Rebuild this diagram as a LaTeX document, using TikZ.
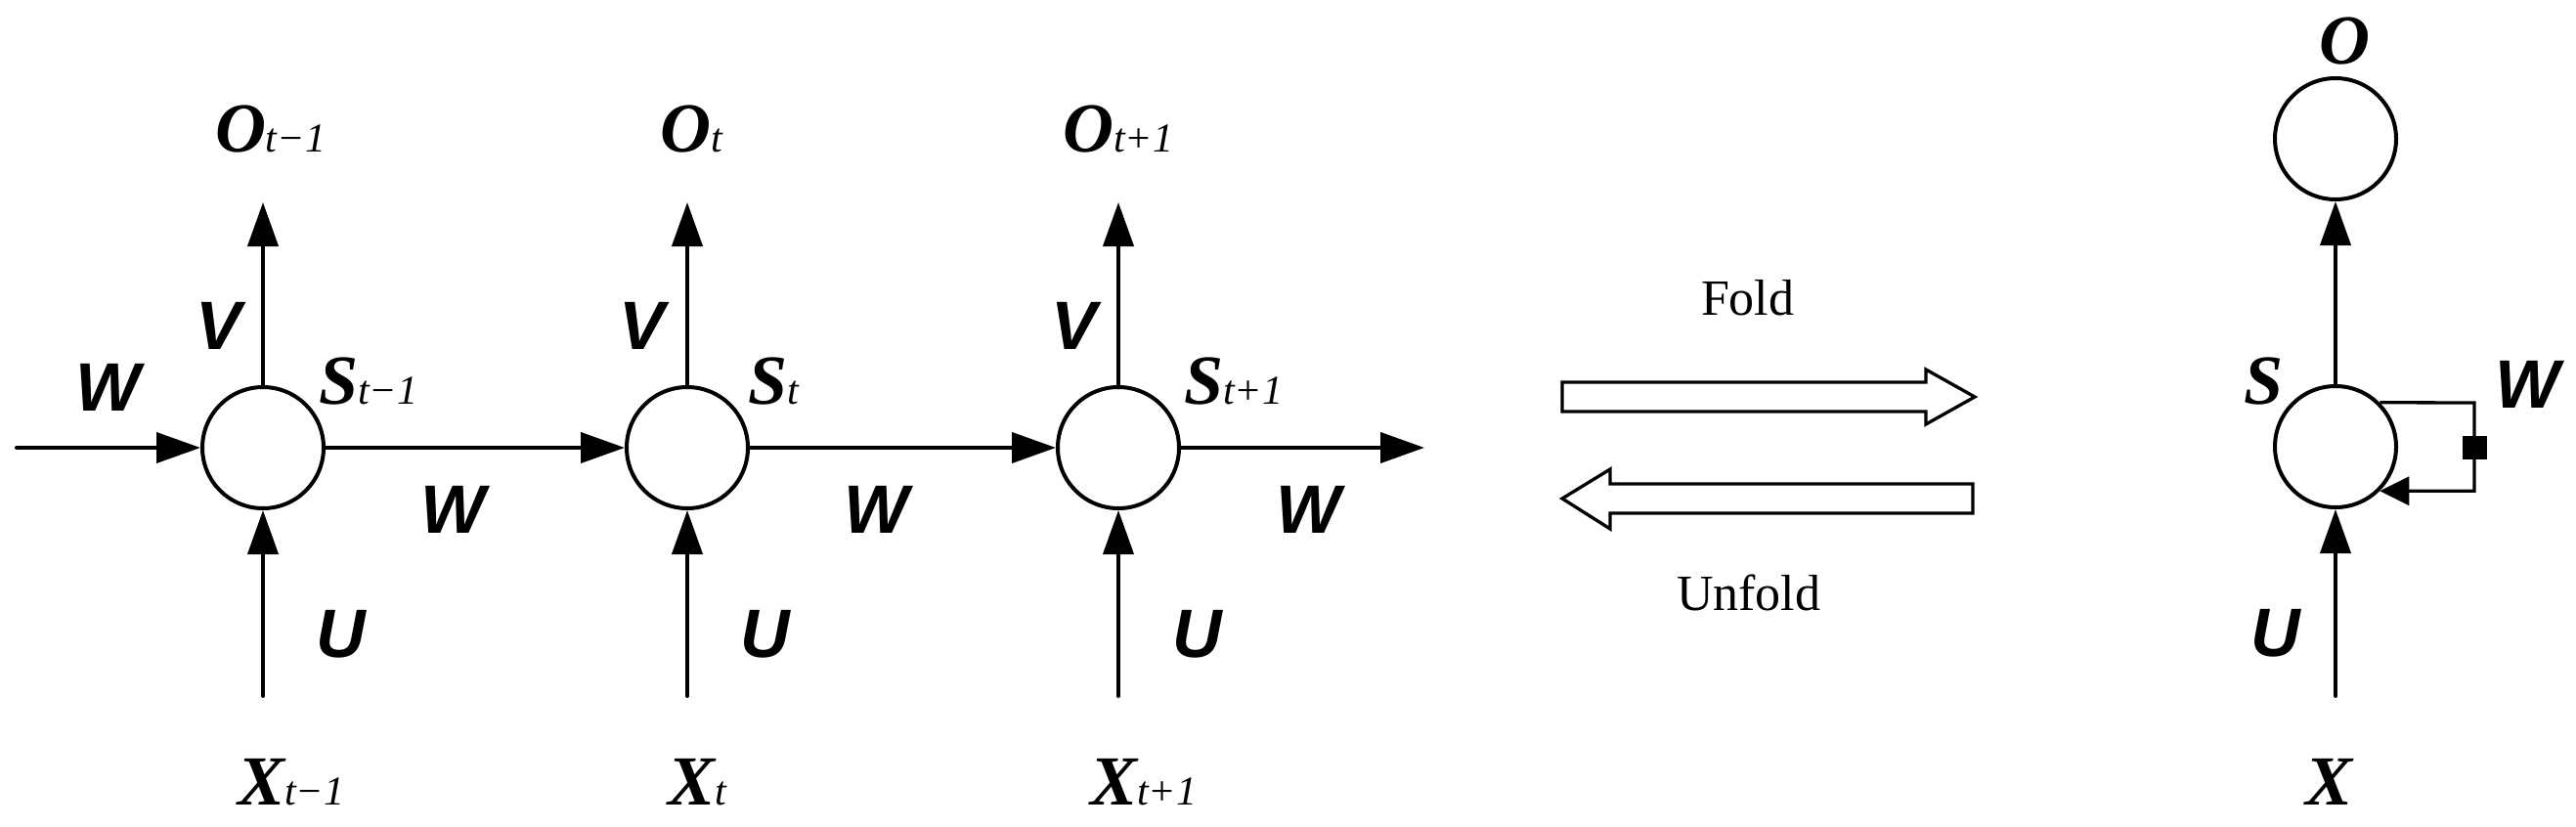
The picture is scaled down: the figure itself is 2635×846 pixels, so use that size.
\documentclass[tikz,border=0pt]{standalone}
\usepackage{fontspec}
\setmainfont{Liberation Serif}
\newfontfamily\rnnsans{Liberation Sans}
\usetikzlibrary{arrows.meta}
\newcommand{\rnnBig}[1]{{\fontsize{72}{80}\selectfont\bfseries\itshape #1}}
\newcommand{\rnnSub}[1]{{\fontsize{42}{48}\selectfont\itshape #1}}
\newcommand{\rnnW}[1]{{\rnnsans\fontsize{70}{80}\selectfont\bfseries\itshape #1}}
\newcommand{\rnnFold}[1]{{\fontsize{52}{60}\selectfont #1}}
\begin{document}
\begin{tikzpicture}[x=1pt,y=-1pt,
  cell/.style={circle, draw, line width=4pt, minimum size=124pt, inner sep=0pt},
  conn/.style={line width=4pt, line cap=round, -{Triangle[length=45pt,width=31pt]}},
  loopc/.style={line width=3.3pt, -{Triangle[length=30pt,width=29pt]}},
  lbl/.style={anchor=base west, inner sep=0pt, outer sep=0pt},
  bigarrow/.style={draw, line width=3.3pt, fill=white}]
\useasboundingbox (0,0) rectangle (2635,846);

% unfolded chain
\node[cell] (s1) at (269,458) {};
\node[cell] (s2) at (703,458) {};
\node[cell] (s3) at (1144,458) {};
\coordinate (in0) at (17,458);
\coordinate (out3) at (1457,458);
\coordinate (o1) at (269,207);
\coordinate (o2) at (703,207);
\coordinate (o3) at (1144,207);
\coordinate (x1) at (269,712);
\coordinate (x2) at (703,712);
\coordinate (x3) at (1144,712);

\draw[conn] (in0) -- (s1.west);
\draw[conn] (s1.east) -- (s2.west);
\draw[conn] (s2.east) -- (s3.west);
\draw[conn] (s3.east) -- (out3);
\draw[conn] (s1.north) -- (o1);
\draw[conn] (s2.north) -- (o2);
\draw[conn] (s3.north) -- (o3);
\draw[conn] (x1) -- (s1.south);
\draw[conn] (x2) -- (s2.south);
\draw[conn] (x3) -- (s3.south);

% labels of the chain
\node[lbl] (lo1) at (220,155) {\rnnBig{O}\rnnSub{t−1}};
\node[lbl] (lo2) at (675,155) {\rnnBig{O}\rnnSub{t}};
\node[lbl] (lo3) at (1087,155) {\rnnBig{O}\rnnSub{t+1}};
\node[lbl] (ls1) at (326,413) {\rnnBig{S}\rnnSub{t−1}};
\node[lbl] (ls2) at (765,413) {\rnnBig{S}\rnnSub{t}};
\node[lbl] (ls3) at (1211,413) {\rnnBig{S}\rnnSub{t+1}};
\node[lbl] (lx1) at (243,823) {\rnnBig{X}\rnnSub{t−1}};
\node[lbl] (lx2) at (683,823) {\rnnBig{X}\rnnSub{t}};
\node[lbl] (lx3) at (1115,823) {\rnnBig{X}\rnnSub{t+1}};
\node[lbl] (lv1) at (200,357) {\rnnW{V}};
\node[lbl] (lv2) at (633,357) {\rnnW{V}};
\node[lbl] (lv3) at (1075,357) {\rnnW{V}};
\node[lbl] (lw0) at (77,420) {\rnnW{W}};
\node[lbl] (lw1) at (430,545) {\rnnW{W}};
\node[lbl] (lw2) at (863,545) {\rnnW{W}};
\node[lbl] (lw3) at (1305,545) {\rnnW{W}};
\node[lbl] (lu1) at (323,672) {\rnnW{U}};
\node[lbl] (lu2) at (757,672) {\rnnW{U}};
\node[lbl] (lu3) at (1199,672) {\rnnW{U}};

% fold / unfold arrows
\draw[bigarrow] (1598,391) -- (1970,391) -- (1970,378) -- (2020,406) -- (1970,434) -- (1970,421) -- (1598,421) -- cycle;
\draw[bigarrow] (2018,495) -- (1647,495) -- (1647,480) -- (1598,510) -- (1647,541) -- (1647,525) -- (2018,525) -- cycle;
\node[lbl] (fold) at (1740,322) {\rnnFold{Fold}};
\node[lbl] (unfold) at (1715,624) {\rnnFold{Unfold}};

% folded network
\node[cell] (sr) at (2389,457) {};
\node[cell] (or) at (2389,142) {};
\coordinate (xr) at (2389,712);
\coordinate (lr) at (2531,412);
\draw[conn] (xr) -- (sr.south);
\draw[conn] (sr.north) -- (or.south);
\draw[loopc] (sr.45) -- (lr) |- (sr.-45);
\node[fill=black, minimum width=25pt, minimum height=24pt, inner sep=0pt] (sq) at (2531,458) {};

\node[lbl] (lor) at (2372,65) {\rnnBig{O}};
\node[lbl] (lsr) at (2295,413) {\rnnBig{S}};
\node[lbl] (lwr) at (2552,417) {\rnnW{W}};
\node[lbl] (lur) at (2302,671) {\rnnW{U}};
\node[lbl] (lxr) at (2358,823) {\rnnBig{X}};
\end{tikzpicture}
\end{document}
